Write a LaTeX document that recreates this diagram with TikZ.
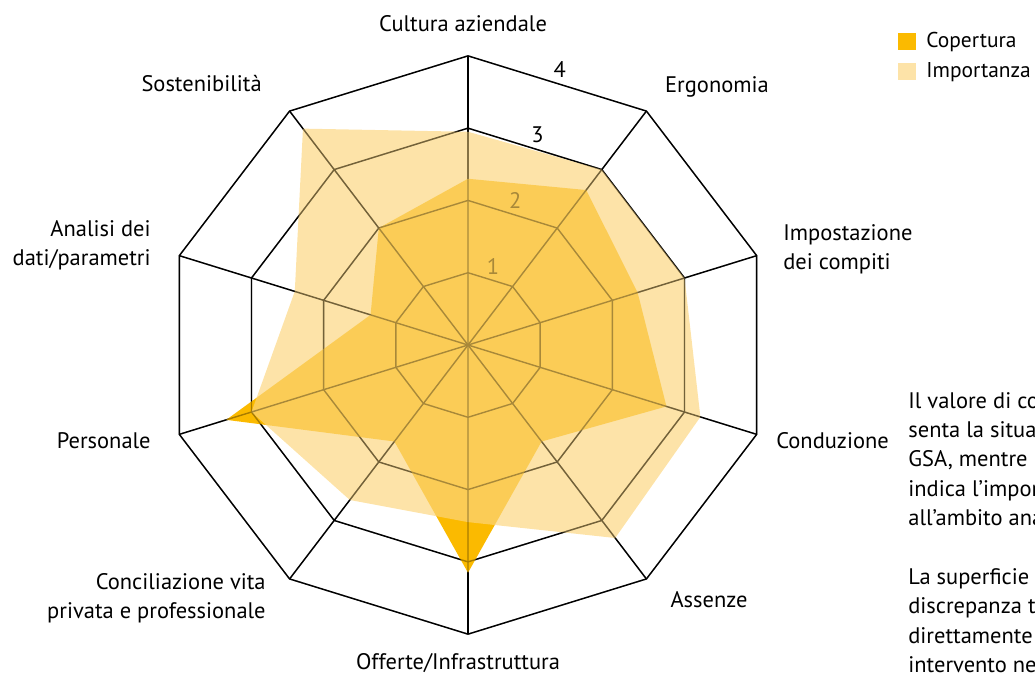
\documentclass[tikz,border=0pt]{standalone}
\usepackage{fontspec}
\setmainfont{PT Sans}
\usetikzlibrary{positioning}
\definecolor{copertura}{RGB}{251,186,0}
\definecolor{importanza}{RGB}{252,214,127}
\tikzset{
  griglia/.style={line width=0.8pt,black,line join=miter},
  etichetta/.style={font=\fontsize{12.8}{16.7}\selectfont,inner sep=0pt},
  legenda/.style={etichetta,font=\fontsize{12.2}{16.7}\selectfont,anchor=west},
}
\begin{document}
\begin{tikzpicture}[x=0.02cm,y=-0.02cm]
  \useasboundingbox (0,0) rectangle (1035,674);
  \begin{scope}[shift={(468,345)},x=1.518cm,y=1.446cm]
    \foreach \r in {1,...,4}
      \draw[griglia] (90:\r) \foreach \a in {54,18,...,-234}{--(\a:\r)} --cycle;
    \foreach \a in {90,54,...,-234}
      \draw[griglia] (0,0)--(\a:4);
    \node[etichetta,above=3pt,xshift=1.5pt] (liv3) at (72:2.853) {3};
    \node[etichetta,above=3pt,xshift=1.5pt] (liv4) at (72:3.804) {4};
    \fill[copertura] (90:2.3) \foreach \a/\v in {54/2.65,18/2.35,-18/2.75,-54/1.65,-90/3.15,-126/1.65,-162/3.35,-198/1.35,-234/2}{--(\a:\v)} --cycle;
    \fill[importanza,fill opacity=0.68] (90:2.95) \foreach \a/\v in {54/3,18/3,-18/3.22,-54/3.3,-90/2.45,-126/2.65,-162/3,-198/2.4,-234/3.7}{--(\a:\v)} --cycle;
    \begin{scope}[transparency group,opacity=0.33]
      \foreach \r in {1,...,4}
        \draw[griglia] (90:\r) \foreach \a in {54,18,...,-234}{--(\a:\r)} --cycle;
      \foreach \a in {90,54,...,-234}
        \draw[griglia] (0,0)--(\a:4);
      \node[etichetta,above=3pt,xshift=1.5pt] (liv1) at (72:0.951) {1};
      \node[etichetta,above=3pt,xshift=1.5pt] (liv2) at (72:1.902) {2};
    \end{scope}
  \end{scope}
  \node[etichetta] (cultura) at (463,24) {Cultura aziendale};
  \node[etichetta] (ergonomia) at (717,87) {Ergonomia};
  \node[etichetta,anchor=west,align=left] (impostazione) at (783,249) {Impostazione\\dei compiti};
  \node[etichetta,anchor=west] (conduzione) at (776,441) {Conduzione};
  \node[etichetta] (assenze) at (709,600) {Assenze};
  \node[etichetta] (offerte) at (458,663) {Offerte/Infrastruttura};
  \node[etichetta,anchor=east,align=right] (conciliazione) at (266,598) {Conciliazione vita\\privata e professionale};
  \node[etichetta,anchor=east] (personale) at (151,441) {Personale};
  \node[etichetta,anchor=east,align=right] (analisi) at (151,245) {Analisi dei\\dati/parametri};
  \node[etichetta,anchor=east] (sostenibilita) at (262,84) {Sostenibilità};
  \fill[copertura] (898,33) rectangle (916,50);
  \fill[importanza,fill opacity=0.68] (898,63) rectangle (916,80);
  \node[legenda] (leg1) at (926,42) {Copertura};
  \node[legenda] (leg2) at (926,72) {Importanza};
  \node[etichetta,anchor=north west,align=left] (nota) at (908,392) {Il valore di co\\senta la situa\\GSA, mentre\\indica l’impor\\all’ambito ana\\[16.7pt]La superficie\\discrepanza t\\direttamente\\intervento nel};
\end{tikzpicture}
\end{document}
